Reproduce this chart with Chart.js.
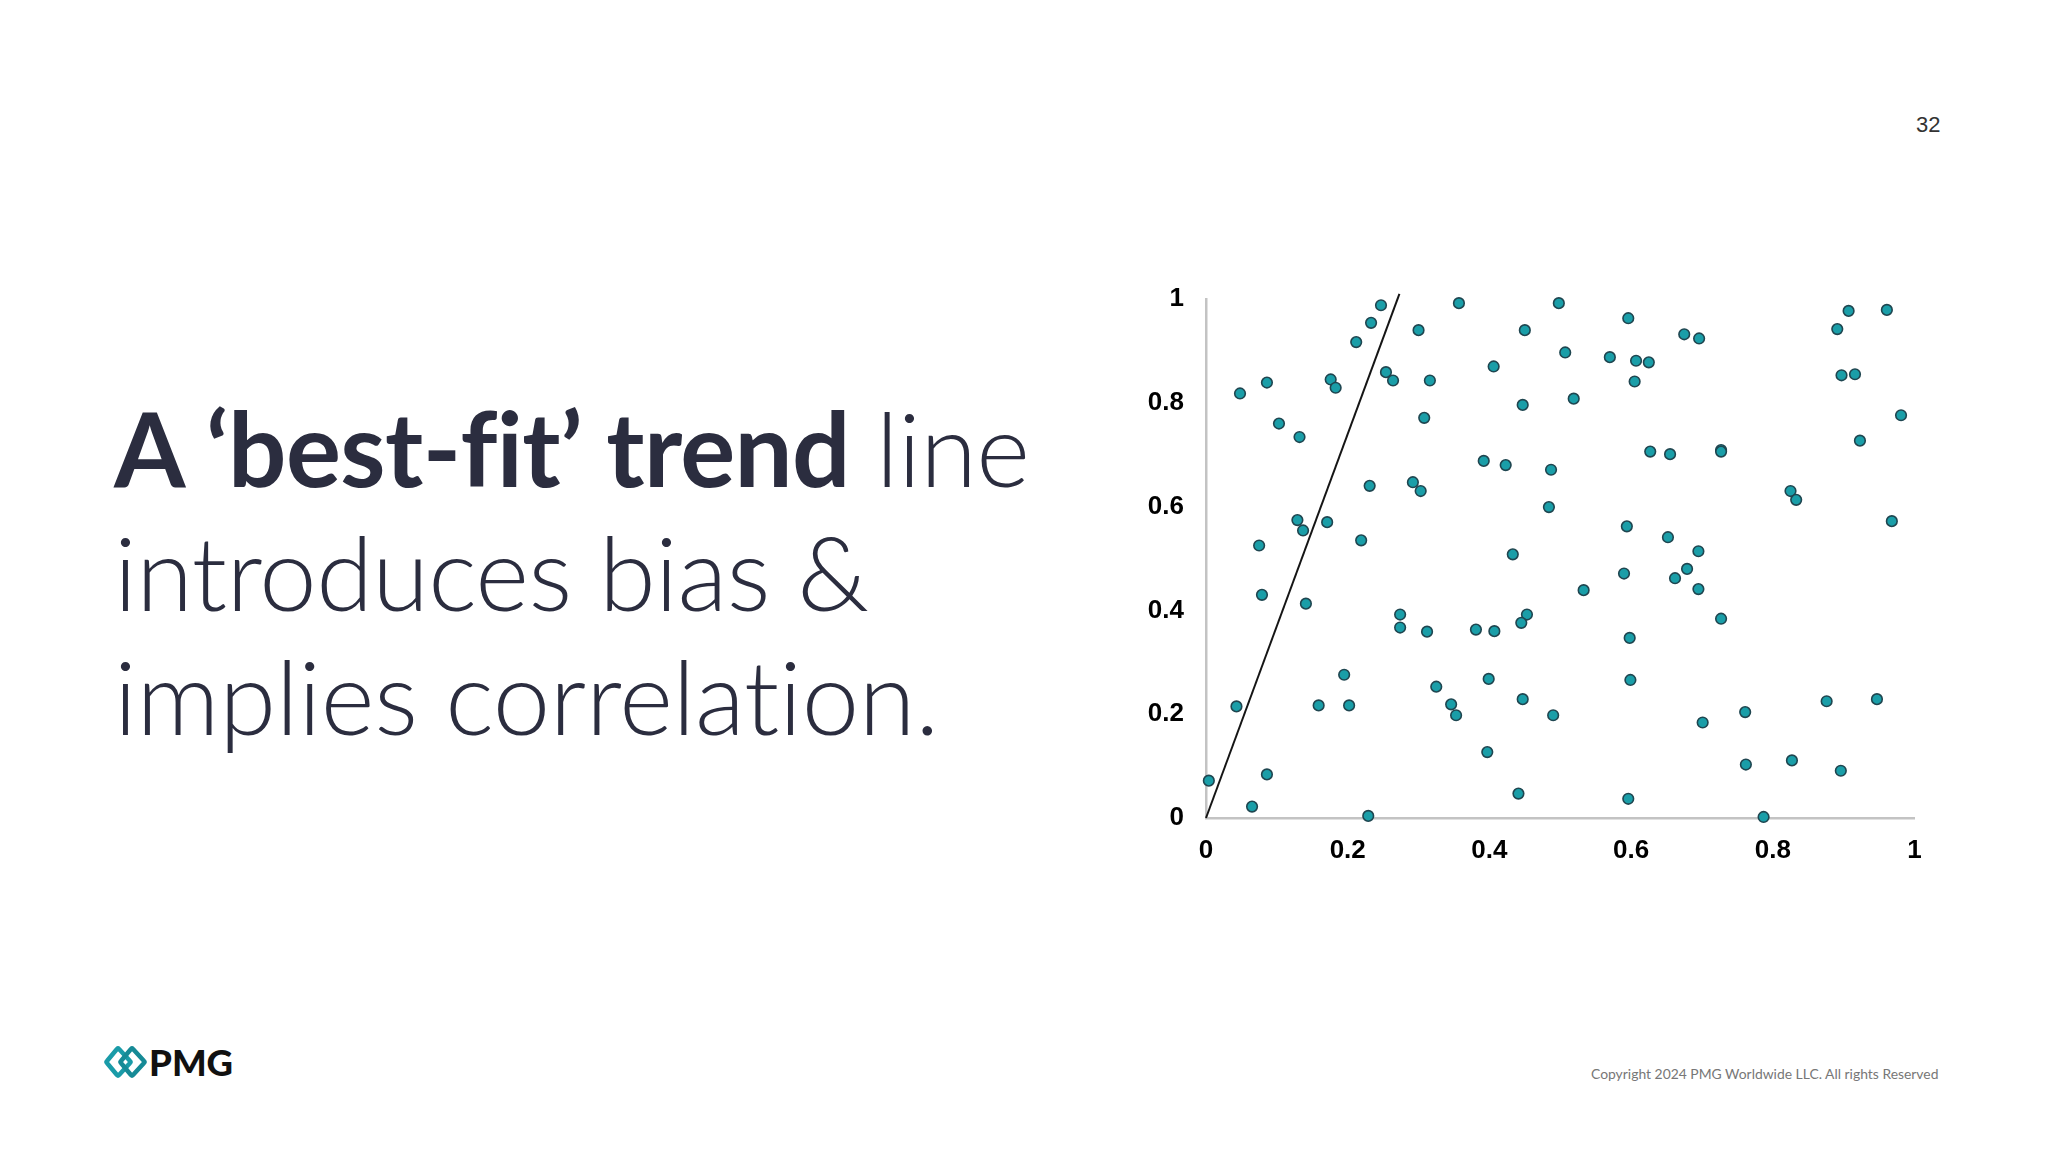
<!DOCTYPE html>
<html>
<head>
<meta charset="utf-8">
<script src="https://cdn.jsdelivr.net/npm/chart.js@4.4.1/dist/chart.umd.min.js"></script>
<style>
  html, body { margin:0; padding:0; background:#fff; }
  body { width:2048px; height:1152px; position:relative; overflow:hidden; font-family: Lato, "Open Sans", sans-serif; }
  .title { position:absolute; left:114px; top:385px; font-size:103px; line-height:124px; color:#2b2d3f; font-family: Lato, sans-serif; white-space:nowrap; letter-spacing:-0.6px; }
  .title b { font-weight:700; font-family: Lato, sans-serif; }
  .title span.l { font-weight:300; font-family: "Lato Light", Lato, sans-serif; }
  .title .l3 { letter-spacing:-0.3px; }
  #chartBox { position:absolute; left:1100px; top:280px; width:840px; height:600px; }
  .pageno { position:absolute; left:1916px; top:112px; font-family:"Liberation Sans", Arial, sans-serif; font-size:22px; color:#333; }
  .copy { position:absolute; left:1591px; top:1065px; font-family:Lato, sans-serif; font-size:13.9px; color:#777; white-space:nowrap; }
  .logo { position:absolute; left:104px; top:1042px; }
  .pmg { position:absolute; left:149px; top:1040px; font-family:Lato, sans-serif; font-weight:900; font-size:36.5px; color:#111; }
</style>
</head>
<body>
<div class="title">
  <div><b>A ‘best-fit’ trend</b> <span class="l">line</span></div>
  <div><span class="l">introduces bias &amp;</span></div>
  <div class="l3"><span class="l">implies correlation.</span></div>
</div>
<div class="pageno">32</div>
<div id="chartBox"><canvas id="c" width="840" height="600"></canvas></div>
<svg class="logo" width="44" height="40" viewBox="0 0 44 40">
  <path d="M15 7 L26 19 Q27 20 26 21 L15 33 Q14 34 13 33 L3 21 Q2 20 3 19 L13 7 Q14 6 15 7 Z" fill="none" stroke="#1a9ba8" stroke-width="4.5" stroke-linejoin="round"/>
  <path d="M29 7 L40 19 Q41 20 40 21 L29 33 Q28 34 27 33 L17 21 Q16 20 17 19 L27 7 Q28 6 29 7 Z" fill="none" stroke="#168a96" stroke-width="4.5" stroke-linejoin="round"/>
</svg>
<div class="pmg">PMG</div>
<div class="copy">Copyright 2024 PMG Worldwide LLC. All rights Reserved</div>
<script>
// Scatter point values
const xValues = [
  0.247,0.233,0.212,0.357,0.300,0.450,0.406,0.254,0.264,0.316,0.176,0.183,0.086,0.048,0.447,0.103,0.308,0.132,0.392,0.423,0.231,0.292,0.303,0.129,0.137,0.171,0.075,0.219,0.433,
  0.498,0.596,0.507,0.570,0.607,0.625,0.605,0.675,0.696,0.907,0.961,0.891,0.897,0.916,0.519,0.981,0.923,0.627,0.655,0.727,0.727,0.487,0.484,0.825,0.833,0.968,0.594,0.652,0.695,
  0.079,0.141,0.274,0.274,0.312,0.381,0.407,0.453,0.445,0.195,0.399,0.325,0.043,0.159,0.202,0.346,0.353,0.447,0.397,0.004,0.086,0.065,0.229,0.441,
  0.590,0.679,0.662,0.695,0.533,0.727,0.598,0.599,0.490,0.701,0.761,0.876,0.947,0.762,0.827,0.896,0.596,0.787
];
const yValues = [
  0.988,0.954,0.917,0.992,0.940,0.940,0.870,0.859,0.843,0.843,0.845,0.829,0.839,0.818,0.796,0.760,0.771,0.734,0.688,0.680,0.640,0.647,0.630,0.574,0.554,0.570,0.525,0.535,0.508,
  0.992,0.963,0.897,0.888,0.881,0.878,0.841,0.932,0.924,0.977,0.979,0.942,0.853,0.855,0.808,0.776,0.727,0.706,0.701,0.709,0.706,0.671,0.599,0.630,0.613,0.572,0.562,0.541,0.514,
  0.430,0.413,0.392,0.367,0.359,0.363,0.360,0.392,0.376,0.276,0.268,0.253,0.215,0.217,0.217,0.219,0.198,0.229,0.127,0.072,0.084,0.022,0.004,0.047,
  0.471,0.480,0.462,0.441,0.439,0.384,0.347,0.266,0.198,0.184,0.204,0.225,0.229,0.103,0.111,0.091,0.037,0.002
];
// Trend line end points
const trendX = [0, 0.273];
const trendY = [0, 1.01];
// Tick labels
const tickLabels = ['0', '0.2', '0.4', '0.6', '0.8', '1'];

const points = xValues.map((x, i) => ({ x: x, y: yValues[i] }));
const trend = trendX.map((x, i) => ({ x: x, y: trendY[i] }));

const tickFont = { family: '"Liberation Sans", Arial, sans-serif', size: 26, weight: 'bold' };
const fmt = (v) => {
  const i = Math.round(v / 0.2);
  return (Math.abs(v - i * 0.2) < 1e-6 && tickLabels[i] !== undefined) ? tickLabels[i] : '';
};

new Chart(document.getElementById('c'), {
  type: 'scatter',
  data: {
    datasets: [
      {
        type: 'line',
        data: trend,
        borderColor: '#151515',
        borderWidth: 2,
        pointRadius: 0,
        fill: false,
        clip: false,
        order: 2
      },
      {
        data: points,
        backgroundColor: '#1a9ea8',
        borderColor: '#1f4650',
        borderWidth: 1.6,
        pointRadius: 5.3,
        clip: false,
        order: 1
      }
    ]
  },
  options: {
    responsive: false,
    devicePixelRatio: 1,
    animation: false,
    layout: { autoPadding: false, padding: { top: 19, right: 25.5, left: 0, bottom: 0 } },
    plugins: { legend: { display: false }, tooltip: { enabled: false } },
    scales: {
      x: {
        type: 'linear', min: 0, max: 1,
        grid: { display: false, drawTicks: false },
        border: { display: true, color: '#c3c3c3', width: 2.5 },
        ticks: { stepSize: 0.2, padding: 17, color: '#000', font: tickFont, callback: fmt, maxRotation: 0 },
        afterFit: (s) => { s.height = 62; s.paddingLeft = 0; s.paddingRight = 0; }
      },
      y: {
        type: 'linear', min: 0, max: 1,
        grid: { display: false, drawTicks: false },
        border: { display: true, color: '#c3c3c3', width: 2.5 },
        ticks: { stepSize: 0.2, padding: 22, color: '#000', font: tickFont, callback: fmt },
        afterFit: (s) => { s.width = 106; s.paddingTop = 0; s.paddingBottom = 0; }
      }
    }
  }
});
</script>
</body>
</html>
